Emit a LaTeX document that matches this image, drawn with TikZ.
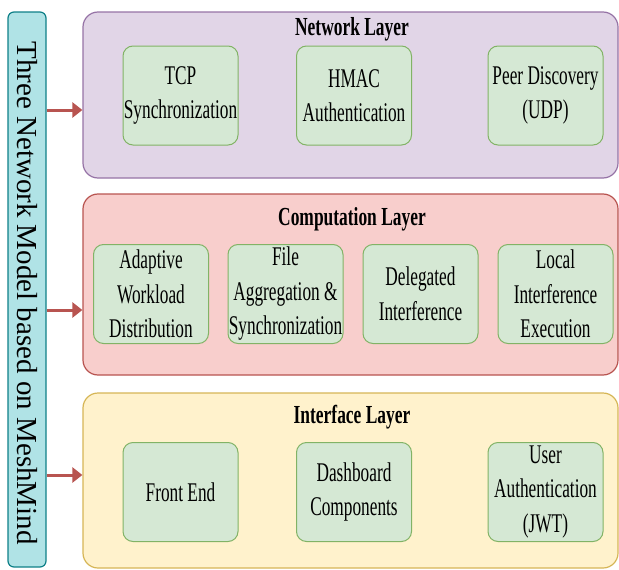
\documentclass[tikz,border=0pt]{standalone}
\usepackage{fontspec}
\setmainfont{Liberation Serif}
\newfontfamily\boxfont{Liberation Serif}[FakeStretch=0.64]
\newfontfamily\headfont{Liberation Serif}[FakeStretch=0.67]
\usetikzlibrary{arrows.meta}
\definecolor{netfill}{HTML}{E1D5E7}
\definecolor{netline}{HTML}{9673A6}
\definecolor{compfill}{HTML}{F8CECC}
\definecolor{compline}{HTML}{B85450}
\definecolor{uifill}{HTML}{FFF2CC}
\definecolor{uiline}{HTML}{D6B656}
\definecolor{boxfill}{HTML}{D5E8D4}
\definecolor{boxline}{HTML}{82B366}
\definecolor{sidefill}{HTML}{B0E3E6}
\definecolor{sideline}{HTML}{0E8088}
\begin{document}
\begin{tikzpicture}[x=1pt,y=-1pt,line join=round,
  layer/.style={rounded corners=15pt,line width=1.2pt,minimum width=535pt,inner sep=0pt},
  comp/.style={draw=boxline,fill=boxfill,rounded corners=10pt,line width=1pt,
    minimum width=115pt,minimum height=99pt,inner sep=0pt,align=center,
    font=\boxfont\fontsize{27}{34.5}\selectfont},
  head/.style={anchor=base,font=\headfont\bfseries\fontsize{26}{30}\selectfont},
  flow/.style={draw=compline,line width=3pt,-{Triangle[length=10pt,width=15pt]}}]
\useasboundingbox (0,0) rectangle (619,570);
% side bar
\node[draw=sideline,fill=sidefill,rounded corners=6pt,line width=1.2pt,rotate=-90,
  minimum width=555pt,minimum height=38pt,inner sep=0pt] (model) at (27,289.5) {};
\node[rotate=-90,font=\fontsize{29}{33}\selectfont] (modeltext) at (27,293) {Three Network Model based on MeshMind};
% layers
\node[layer,draw=netline,fill=netfill,minimum height=166pt] (net) at (350.5,95) {};
\node[layer,draw=compline,fill=compfill,minimum height=181pt] (cmp) at (350.5,284.5) {};
\node[layer,draw=uiline,fill=uifill,minimum height=175pt] (ui) at (350.5,480.5) {};
\node[head] (nethead) at (352,35) {Network Layer};
\node[head] (cmphead) at (352,225) {Computation Layer};
\node[head] (uihead) at (352,423) {Interface Layer};
% components
\foreach \n/\x/\t in {tcp/180.5/{TCP\\Synchronization},hmac/354/{HMAC\\Authentication},peer/545.5/{Peer Discovery\\(UDP)}}
\node[comp] (\n) at (\x,95.5) {\t};
\foreach \n/\x/\t in {adapt/151/{Adaptive\\Workload\\Distribution},agg/285.5/{File\\Aggregation \&\\Synchronization},deleg/420.5/{Delegated\\Interference},local/555.5/{Local\\Interference\\Execution}}
\node[comp] (\n) at (\x,294) {\t};
\foreach \n/\x/\t in {front/180.5/{Front End},dash/354/{Dashboard\\Components},user/545.5/{User\\Authentication\\(JWT)}}
\node[comp] (\n) at (\x,492) {\t};
% arrows
\draw[flow] (model.north |- 0,110) -- (net.west |- 0,110);
\draw[flow] (model.north |- 0,310) -- (cmp.west |- 0,310);
\draw[flow] (model.north |- 0,475) -- (ui.west |- 0,475);
\end{tikzpicture}
\end{document}
